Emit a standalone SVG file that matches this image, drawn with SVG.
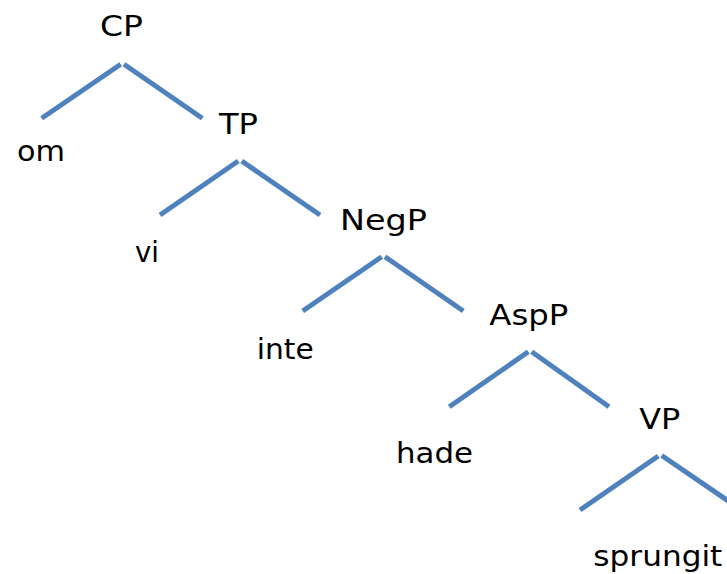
<svg xmlns="http://www.w3.org/2000/svg" width="727" height="574" viewBox="0 0 727 574">
<style>
.lbl{font-family:"DejaVu Sans","Open Sans",sans-serif;font-size:29px;fill:#000}
.edge{stroke:#4F81BD;stroke-width:5;fill:none;stroke-linecap:butt}
</style>
<rect width="727" height="574" fill="#fff"/>
<g id="connectors">
<line class="edge" x1="41.7" y1="118.3" x2="120.7" y2="64.3"/>
<line class="edge" x1="124" y1="64.3" x2="202.3" y2="118.3"/>
<line class="edge" x1="160" y1="215" x2="238.3" y2="161"/>
<line class="edge" x1="241.7" y1="161" x2="320" y2="215"/>
<line class="edge" x1="302.7" y1="311" x2="381.7" y2="256.7"/>
<line class="edge" x1="385" y1="256.7" x2="463.3" y2="311"/>
<line class="edge" x1="449.3" y1="406.7" x2="528.3" y2="351.7"/>
<line class="edge" x1="531.7" y1="351.7" x2="609" y2="406.7"/>
<line class="edge" x1="580" y1="510" x2="658.3" y2="456"/>
<line class="edge" x1="661.7" y1="455.5" x2="740" y2="509"/>
</g>
<g id="CP"><text class="lbl" x="100" y="36" textLength="43" lengthAdjust="spacingAndGlyphs">CP</text></g>
<g id="om"><text class="lbl" x="17" y="160.7" textLength="48" lengthAdjust="spacingAndGlyphs">om</text></g>
<g id="TP"><text class="lbl" x="219" y="134" textLength="39" lengthAdjust="spacingAndGlyphs">TP</text></g>
<g id="vi"><text class="lbl" x="135" y="261.7" textLength="24" lengthAdjust="spacingAndGlyphs">vi</text></g>
<g id="NegP"><text class="lbl" x="340" y="230" textLength="87" lengthAdjust="spacingAndGlyphs">NegP</text></g>
<g id="inte"><text class="lbl" x="256.7" y="359.3" textLength="57" lengthAdjust="spacingAndGlyphs">inte</text></g>
<g id="AspP"><text class="lbl" x="489.3" y="325" textLength="79" lengthAdjust="spacingAndGlyphs">AspP</text></g>
<g id="hade"><text class="lbl" x="396" y="463.3" textLength="77" lengthAdjust="spacingAndGlyphs">hade</text></g>
<g id="VP"><text class="lbl" x="639.3" y="429.3" textLength="41" lengthAdjust="spacingAndGlyphs">VP</text></g>
<g id="sprungit"><text class="lbl" x="593.3" y="566" textLength="129" lengthAdjust="spacingAndGlyphs">sprungit</text></g>
</svg>
